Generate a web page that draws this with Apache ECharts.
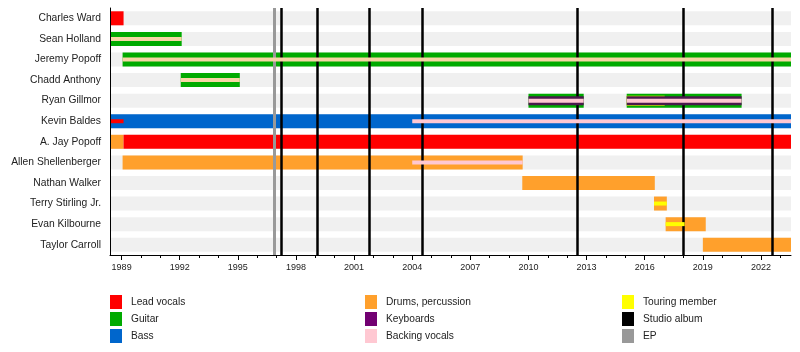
<!DOCTYPE html>
<html>
<head>
<meta charset="utf-8">
<script src="https://cdn.jsdelivr.net/npm/echarts@6/dist/echarts.min.js"></script>
<style>
  html, body { margin: 0; padding: 0; background: #fff; }
  #chart { width: 800px; height: 352px; }
</style>
</head>
<body>
<div id="chart"></div>
<script>
// timeline range (years)
var startYear = 1988.4
var endYear = 2023.55

var members = [
  'Charles Ward', 'Sean Holland', 'Jeremy Popoff', 'Chadd Anthony', 'Ryan Gillmor',
  'Kevin Baldes', 'A. Jay Popoff', 'Allen Shellenberger', 'Nathan Walker',
  'Terry Stirling Jr.', 'Evan Kilbourne', 'Taylor Carroll'
]

var labelYears = [1989, 1992, 1995, 1998, 2001, 2004, 2007, 2010, 2013, 2016, 2019, 2022]
var tickYears = []
for (var y = 1989; y <= 2023; y++) tickYears.push(y)

// main roles
var primaryBars = [
  ['Charles Ward', 1988.4, 1989.1, 'Lead vocals'],
  ['Sean Holland', 1988.4, 1992.1, 'Guitar'],
  ['Jeremy Popoff', 1989.05, 2023.55, 'Guitar'],
  ['Chadd Anthony', 1992.05, 1995.1, 'Guitar'],
  ['Ryan Gillmor', 2010.0, 2012.85, 'Guitar'],
  ['Ryan Gillmor', 2015.07, 2021.0, 'Guitar'],
  ['Kevin Baldes', 1988.4, 2023.55, 'Bass'],
  ['A. Jay Popoff', 1988.4, 1989.1, 'Drums, percussion'],
  ['A. Jay Popoff', 1989.1, 2023.55, 'Lead vocals'],
  ['Allen Shellenberger', 1989.05, 2009.7, 'Drums, percussion'],
  ['Nathan Walker', 2009.68, 2016.52, 'Drums, percussion'],
  ['Terry Stirling Jr.', 2016.48, 2017.14, 'Drums, percussion'],
  ['Evan Kilbourne', 2017.08, 2019.15, 'Drums, percussion'],
  ['Taylor Carroll', 2019.0, 2023.55, 'Drums, percussion']
]

var touringBars = [
  ['Ryan Gillmor', 2015.07, 2017.03, 'Touring member']
]

var keyboardBars = [
  ['Ryan Gillmor', 2010.0, 2012.85, 'Keyboards'],
  ['Ryan Gillmor', 2015.07, 2021.0, 'Keyboards']
]

var stripeBars = [
  ['Sean Holland', 1988.4, 1992.1, 'Guitar stripe'],
  ['Jeremy Popoff', 1989.05, 2023.55, 'Guitar stripe'],
  ['Chadd Anthony', 1992.05, 1995.1, 'Guitar stripe'],
  ['Ryan Gillmor', 2010.0, 2012.85, 'Backing vocals'],
  ['Ryan Gillmor', 2015.07, 2021.0, 'Backing vocals'],
  ['Kevin Baldes', 1988.4, 1989.1, 'Lead vocals'],
  ['Kevin Baldes', 2004.0, 2023.55, 'Backing vocals'],
  ['Allen Shellenberger', 2004.0, 2009.7, 'Backing vocals'],
  ['Terry Stirling Jr.', 2016.48, 2017.14, 'Touring member'],
  ['Evan Kilbourne', 2017.08, 2018.06, 'Touring member']
]

var studioAlbums = [1997.26, 1999.1, 2001.8, 2004.5, 2012.5, 2018.0, 2022.56]
var eps = [1996.9]

var colors = {
  'Lead vocals': '#ff0000',
  'Guitar': '#00aa00',
  'Bass': '#0066cc',
  'Drums, percussion': '#ffa02c',
  'Keyboards': '#720072',
  'Backing vocals': '#ffc8d2',
  'Touring member': '#ffff00',
  'Studio album': '#000000',
  'EP': '#999999',
  'Guitar stripe': '#f7d6a6'
}
// the keyboard stripe reads darker inside the bars than in the key
var barColors = { 'Keyboards': '#4a1a4c' }

var legendCols = [
  ['Lead vocals', 'Guitar', 'Bass'],
  ['Drums, percussion', 'Keyboards', 'Backing vocals'],
  ['Touring member', 'Studio album', 'EP']
]

var font = '"Liberation Sans", Arial, sans-serif'

function toData (rows) {
  return rows.map(function (r) {
    return { value: [r[1], r[2], members.indexOf(r[0])], role: r[3] }
  })
}

function barSeries (rows, height, z, fill) {
  var data = toData(rows)
  return {
    type: 'custom',
    z: z,
    silent: true,
    encode: { x: [0, 1], y: 2 },
    data: data,
    renderItem: function (params, api) {
      var p0 = api.coord([api.value(0), api.value(2)])
      var p1 = api.coord([api.value(1), api.value(2)])
      var role = data[params.dataIndex].role
      return {
        type: 'rect',
        shape: { x: p0[0], y: p0[1] - height / 2, width: p1[0] - p0[0], height: height },
        style: { fill: fill || barColors[role] || colors[role] }
      }
    }
  }
}

var backgroundRows = members.map(function (m) { return [m, startYear, endYear, 'bg'] })

var markerSeries = {
  type: 'custom',
  z: 2,
  data: [],
  renderItem: function () {},
  markLine: {
    silent: true,
    symbol: 'none',
    label: { show: false },
    data: eps.map(function (x) {
      return { xAxis: x, lineStyle: { color: colors.EP, width: 3, type: 'solid' } }
    }).concat(studioAlbums.map(function (x) {
      return { xAxis: x, lineStyle: { color: '#000', width: 2.5, type: 'solid' } }
    }))
  }
}

var legendSeries = []
legendCols.forEach(function (col) {
  col.forEach(function (name) {
    legendSeries.push({ name: name, type: 'bar', data: [], itemStyle: { color: colors[name] } })
  })
})

var chart = echarts.init(document.getElementById('chart'))
chart.setOption({
  animation: false,
  textStyle: { fontFamily: font },
  grid: { left: 110, right: 9, top: 8, bottom: 97 },
  xAxis: [{
    type: 'value',
    min: startYear,
    max: endYear,
    z: 10,
    axisLine: { show: true, lineStyle: { color: '#000', width: 1 } },
    axisTick: { show: true, customValues: labelYears, length: 5, lineStyle: { color: '#000' } },
    axisLabel: {
      customValues: labelYears,
      color: '#222',
      fontSize: 9,
      margin: 8,
      fontFamily: font,
      formatter: function (v) { return String(Math.round(v)) }
    },
    splitLine: { show: false }
  }, {
    type: 'value',
    min: startYear,
    max: endYear,
    position: 'bottom',
    z: 10,
    axisLine: { show: false },
    axisTick: { show: true, customValues: tickYears, length: 3, lineStyle: { color: '#000' } },
    axisLabel: { show: false },
    splitLine: { show: false }
  }],
  yAxis: {
    type: 'category',
    data: members,
    inverse: true,
    z: 10,
    axisLine: { show: true, lineStyle: { color: '#000', width: 1 } },
    axisTick: { show: false },
    axisLabel: { color: '#222', fontSize: 10.3, margin: 9, fontFamily: font },
    splitLine: { show: false }
  },
  legend: legendCols.map(function (col, i) {
    return {
      left: [105, 360, 617][i],
      top: 290,
      orient: 'vertical',
      icon: 'rect',
      itemWidth: 12,
      itemHeight: 14,
      itemGap: 3,
      selectedMode: false,
      data: col,
      textStyle: { color: '#222', fontSize: 10.2, fontFamily: font, padding: [0, 0, 0, 4] }
    }
  }),
  series: [
    barSeries(backgroundRows, 14, 1, '#f0f0f0'),
    markerSeries,
    barSeries(primaryBars, 14, 3),
    barSeries(touringBars, 10, 4),
    barSeries(keyboardBars, 9, 5),
    barSeries(stripeBars, 4, 6)
  ].concat(legendSeries)
})
</script>
</body>
</html>
